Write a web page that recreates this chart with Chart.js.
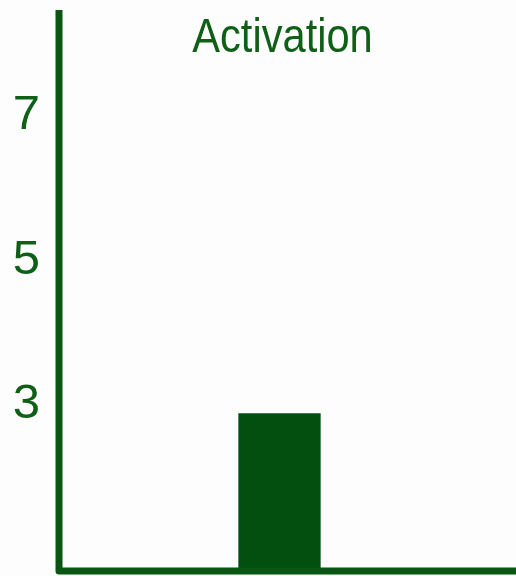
<!DOCTYPE html>
<html>
<head>
<meta charset="utf-8">
<script src="https://cdn.jsdelivr.net/npm/chart.js@4/dist/chart.umd.min.js"></script>
<style>
  html, body { margin: 0; padding: 0; background: #fdfdfd; }
  canvas { display: block; }
</style>
</head>
<body>
<canvas id="chart" width="516" height="576"></canvas>
<script>
// dados do gráfico
const chartTitle = 'Activation';
const categories = ['A', 'B', 'C'];
const activationValues = [0, 2.88, 0];
const yTicks = [3, 5, 7];

const textColor = '#0f5f17';
const barColor = '#034f10';
const axisColor = '#0a5513';
const fontFamily = '"Liberation Sans", Arial, sans-serif';

// eixos grossos em L + título sobre a área do gráfico
const axisAndTitle = {
  id: 'axisAndTitle',
  afterDatasetsDraw(chart) {
    const { ctx, chartArea } = chart;
    ctx.save();
    ctx.strokeStyle = axisColor;
    ctx.lineWidth = 7;
    ctx.lineJoin = 'round';
    ctx.lineCap = 'butt';
    ctx.beginPath();
    ctx.moveTo(chartArea.left, 10);
    ctx.lineTo(chartArea.left, chartArea.bottom);
    ctx.lineTo(chart.width, chartArea.bottom);
    ctx.stroke();

    // título levemente condensado
    const cx = (chartArea.left + chartArea.right) / 2 + 3;
    ctx.translate(cx, 52);
    ctx.scale(0.85, 1);
    ctx.fillStyle = textColor;
    ctx.font = '49px ' + fontFamily;
    ctx.textAlign = 'center';
    ctx.textBaseline = 'alphabetic';
    ctx.fillText(chartTitle, 0, 0);
    ctx.restore();
  }
};

new Chart(document.getElementById('chart'), {
  type: 'bar',
  data: {
    labels: categories,
    datasets: [{
      label: chartTitle,
      data: activationValues,
      backgroundColor: barColor,
      borderWidth: 0,
      categoryPercentage: 0.8,
      barPercentage: 0.7
    }]
  },
  options: {
    responsive: false,
    animation: false,
    layout: { padding: { left: 0, right: 16, top: 20, bottom: 5 } },
    scales: {
      x: { display: false },
      y: {
        min: 0.70,
        max: 8.32,
        grid: { display: false, drawTicks: false },
        border: { display: false },
        afterBuildTicks: scale => { scale.ticks = yTicks.map(v => ({ value: v })); },
        afterFit: scale => {
          scale.width = 59;
          scale.paddingTop = 0;
          scale.paddingBottom = 0;
        },
        ticks: {
          color: textColor,
          padding: 19,
          font: { family: fontFamily, size: 49 }
        }
      }
    },
    plugins: {
      legend: { display: false },
      tooltip: { enabled: false },
      title: { display: false }
    }
  },
  plugins: [axisAndTitle]
});
</script>
</body>
</html>
